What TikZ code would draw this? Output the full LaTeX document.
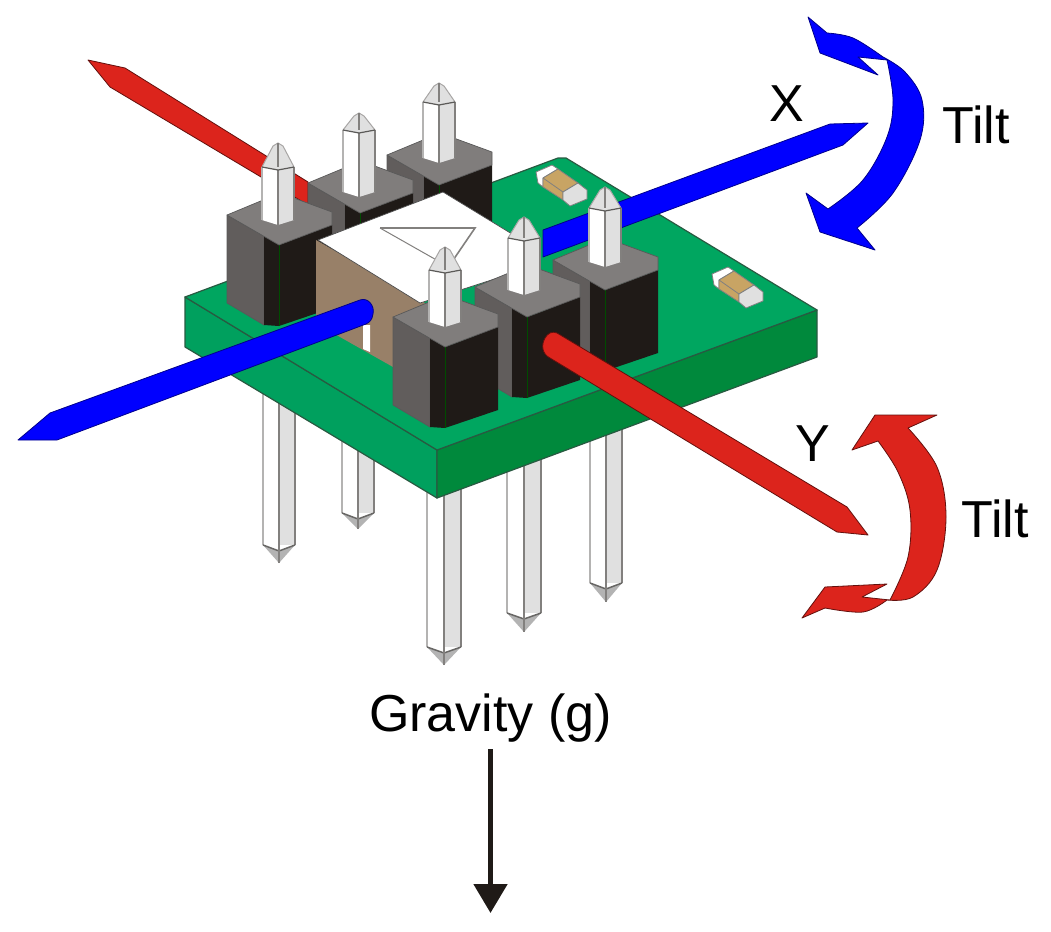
\documentclass[tikz,border=0pt]{standalone}
\usepackage{fontspec}
\setmainfont{Liberation Sans}
\usetikzlibrary{arrows.meta}
\definecolor{pcbtop}{RGB}{0,166,96}
\definecolor{pcbleft}{RGB}{0,160,94}
\definecolor{pcbright}{RGB}{0,137,60}
\definecolor{pcbline}{RGB}{40,90,65}
\definecolor{hdrtop}{RGB}{128,125,124}
\definecolor{hdrleft}{RGB}{97,93,92}
\definecolor{hdrblack}{RGB}{31,26,23}
\definecolor{pinlight}{RGB}{224,224,224}
\definecolor{pinline}{RGB}{130,128,126}
\definecolor{chipbrown}{RGB}{152,128,104}
\definecolor{capbrown}{RGB}{200,164,100}
\definecolor{axisred}{RGB}{220,36,28}
\definecolor{axisblue}{RGB}{0,0,255}
\tikzset{
  pcbface/.style={draw=pcbline,line width=1.2pt,line join=round},
  pinedge/.style={draw=pinline,line width=1.8pt},
  pinside/.style={draw=pinline!60,line width=1.8pt},
  hdredge/.style={draw=black!65,line width=0.7pt,line join=round},
  redbar/.style={fill=axisred,draw=black!55!axisred,line width=0.8pt,line join=round},
  bluebar/.style={fill=axisblue,draw=black!45!axisblue,line width=0.8pt,line join=round},
  tiltlabel/.style={font=\fontsize{52}{60}\selectfont,text=black,inner sep=0pt},
  capedge/.style={draw=black!50,line width=0.8pt,line join=round}
}
\newcommand\lowpin[5]{% cx, halfwidth, tip, shoulder, top
  \fill[white] (#1-#2,#5) rectangle (#1,#4);
  \fill[pinlight] (#1,#5) rectangle (#1+#2,#4);
  \draw[pinside] (#1-#2,#5) -- (#1-#2,#4);
  \draw[pinedge] (#1,#5) -- (#1,#4);
  \draw[pinedge] (#1+#2,#5) -- (#1+#2,#4);
  \fill[pinlight!80!black] (#1-#2,#4) -- (#1,#3) -- (#1+#2,#4) -- (#1,#4+6) -- cycle;
  \draw[pinline!80!black,line width=1.5pt] (#1-#2,#4) -- (#1,#4+6) -- (#1+#2,#4);
  \draw[pinline,line width=1.2pt] (#1,#4) -- (#1,#3);
}
\newcommand\toppin[4]{% cx, tip, shoulder, bottom
  \fill[white] (#1-16,#3) -- (#1,#3+3) -- (#1,#4) -- (#1-16,#4-5) -- cycle;
  \fill[pinlight] (#1,#3+3) -- (#1+16,#3) -- (#1+16,#4-5) -- (#1,#4) -- cycle;
  \draw[pinside,line width=1.5pt] (#1-16,#3) -- (#1-16,#4-5);
  \draw[pinedge] (#1,#3) -- (#1,#4);
  \draw[pinedge] (#1+16,#3) -- (#1+16,#4-5);
  \fill[pinlight] (#1-16,#3) -- (#1-5,#2+3) -- (#1,#2) -- (#1+5,#2+3) -- (#1+16,#3) -- (#1,#3+3) -- cycle;
  \draw[pinline!70,line width=1pt] (#1-16,#3) -- (#1-5,#2+3) -- (#1,#2) -- (#1+5,#2+3) -- (#1+16,#3);
  \draw[pinline!70!black,line width=1.2pt] (#1-16,#3) -- (#1,#3+3) -- (#1+16,#3);
  \draw[pinline,line width=1.2pt] (#1,#2) -- (#1,#3);
}
\newcommand\hdrblock[2]{%
  \begin{scope}[shift={(#1,#2)}]
    \fill[hdrleft,hdredge] (0,0) -- (37,21) -- (37,110) -- (0,88) -- cycle;
    \fill[hdrblack] (37,21) -- (52,30) -- (105,10) -- (105,93) -- (52,111) -- (37,110) -- cycle;
    \draw[black!70!green,line width=0.8pt] (52,30) -- (52,111);
    \fill[hdrtop,hdredge] (0,0) -- (53,-22) -- (105,-3) -- (105,10) -- (52,30) -- cycle;
  \end{scope}
}
\newcommand\smdcap[2]{%
  \begin{scope}[shift={(#1,#2)}]
    \fill[white,capedge] (536,172) -- (552,165) -- (558,169) -- (543,178) -- (543,187) -- (538,183) -- cycle;
    \fill[capbrown,capedge] (543,178) -- (558,169) -- (578,183) -- (563,192) -- (563,200) -- (543,187) -- cycle;
    \fill[pinlight,capedge] (563,192) -- (578,183) -- (587,190) -- (587,199) -- (570,206) -- (563,200) -- cycle;
    \draw[black!50,line width=0.8pt] (543,178) -- (563,192);
  \end{scope}
}
\begin{document}
\begin{tikzpicture}[x=1pt,y=-1pt]
\useasboundingbox (0,0) rectangle (1051,931);
\fill[white] (0,0) rectangle (1051,931);

% pins under the board
\lowpin{358}{16}{529}{513}{400}
\lowpin{279}{16}{563}{545}{380}
\lowpin{606}{16}{602}{583}{420}
\lowpin{524}{17}{632}{613}{440}
\lowpin{444}{17}{665}{647}{470}

% board
\fill[pcbleft,pcbface] (185,297) -- (437,450) -- (437,498) -- (185,347) -- cycle;
\fill[pcbright,pcbface] (437,450) -- (817,310) -- (817,357) -- (437,498) -- cycle;
\fill[pcbtop,pcbface] (185,297) -- (558,158) -- (566,158) -- (817,310) -- (437,450) -- cycle;

\smdcap{0}{0}
\smdcap{176}{102}

% back part of the Y axis
\fill[redbar] (88,60) -- (125,68) -- (308,182) -- (308,205) -- (110,87) -- cycle;

% back headers
\hdrblock{387}{155}
\toppin{439}{83}{102}{163}
\hdrblock{308}{183}
\toppin{359}{113}{130}{197}
\hdrblock{227}{215}
\toppin{278}{143}{167}{225}

% sensor chip
\fill[chipbrown] (316,240) -- (425,303) -- (425,380) -- (393,367) -- (340,337) -- (316,322) -- cycle;
\fill[white] (363,325) -- (370,325) -- (370,352) -- (363,349) -- cycle;
\fill[white,draw=black!70,line width=0.7pt,line join=round] (318,240) -- (443,192) -- (535,248) -- (535,266) -- (420,303) -- cycle;
\draw[pinline,line width=1.6pt] (380,228) -- (475,228) -- (445,272);
\draw[pinline,line width=1pt] (380,228) -- (440,262);

% X axis
\fill[bluebar] (18,440) -- (50,413) -- (360,300) .. controls (368,297) and (375,306) .. (373,314) .. controls (372,320) and (370,322) .. (366,324) -- (57,440) -- cycle;
\fill[bluebar] (543,230) -- (830,124) -- (868,123) -- (843,145) -- (543,257) -- cycle;

% front headers
\hdrblock{553}{260}
\toppin{605}{187}{208}{267}
\hdrblock{475}{287}
\toppin{524}{217}{238}{295}
\hdrblock{393}{317}
\toppin{445}{247}{270}{327}

% front part of the Y axis
\fill[redbar] (557,333) -- (847,507) -- (868,535) -- (837,532) -- (550,358) .. controls (542,354) and (541,345) .. (545,338) .. controls (548,333) and (552,331) .. (557,333) -- cycle;

% tilt arrows
\fill[bluebar] (808,17) -- (827,33)
  -- plot[smooth,tension=0.6] coordinates {(827,33) (853,38) (883,57)}
  -- plot[smooth,tension=0.6] coordinates {(883,57) (905,72) (922,100) (920,140) (893,193) (857,228)}
  -- (875,250) -- (820,232) -- (806,193) -- (828,209)
  -- plot[smooth,tension=0.6] coordinates {(828,209) (863,180) (887,137) (893,100) (887,60)}
  -- (858,57) -- (878,75) -- (820,53) -- cycle;
\fill[redbar] (937,415) -- (875,415) -- (852,450) -- (878,441)
  -- plot[smooth,tension=0.6] coordinates {(878,441) (898,472) (910,510) (908,557) (890,600)}
  -- (862,597) -- (887,584) -- (825,587) -- (802,618) -- (825,608)
  -- plot[smooth,tension=0.6] coordinates {(825,608) (863,612) (887,600)}
  -- plot[smooth,tension=0.6] coordinates {(887,600) (913,597) (937,570) (946,517) (937,467) (908,428)} -- cycle;

% labels
\node[tiltlabel] (xlabel) at (787,104) {X};
\node[tiltlabel] (ylabel) at (813,444) {Y};
\node[tiltlabel] (tiltx) at (976,125) {Tilt};
\node[tiltlabel] (tilty) at (995,519) {Tilt};
\node[tiltlabel,inner sep=2pt] (grav) at (490.5,718) {Gravity (g)};
\coordinate (gravend) at (490.5,913);
\draw[-{Triangle[width=33pt,length=29pt]},line width=5pt,draw=hdrblack,fill=hdrblack,shorten <=5pt] (grav.south) -- (gravend);
\end{tikzpicture}
\end{document}
